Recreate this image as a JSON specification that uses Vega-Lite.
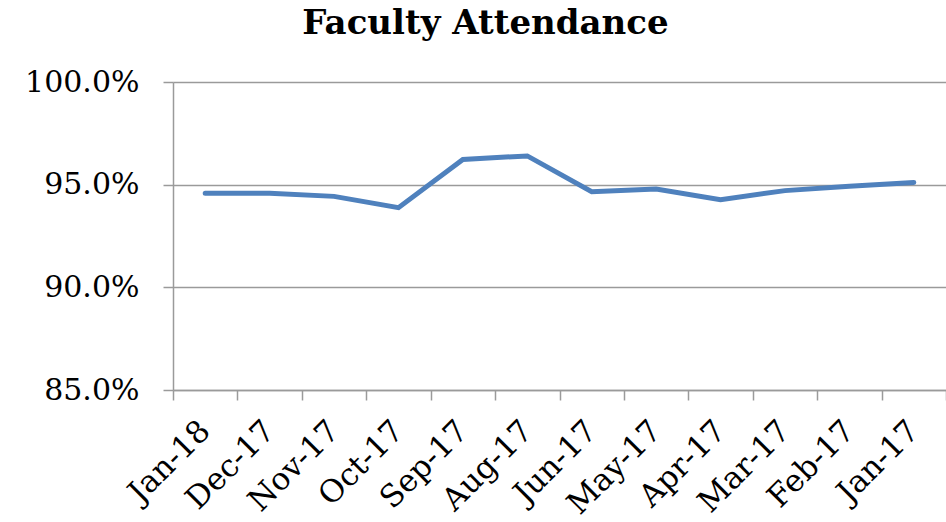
{
  "$schema": "https://vega.github.io/schema/vega-lite/v6.json",
  "autosize": {"type": "none"},
  "padding": {"left": 173, "top": 82, "right": 0, "bottom": 132},
  "width": 773,
  "height": 308,
  "background": "white",
  "title": {
    "text": "Faculty Attendance",
    "font": "DejaVu Serif",
    "fontSize": 34,
    "fontWeight": "bold",
    "color": "#000000",
    "anchor": "middle",
    "dx": -74,
    "offset": 26
  },
  "config": {
    "view": {"stroke": null},
    "axis": {
      "labelFont": "DejaVu Serif",
      "labelFontSize": 30,
      "labelColor": "#000000",
      "domainColor": "#9a9a9a",
      "tickColor": "#9a9a9a",
      "gridColor": "#9a9a9a",
      "domainWidth": 1.5,
      "tickWidth": 1.5,
      "gridWidth": 1.5,
      "tickSize": 10
    }
  },
  "data": {
    "values": [
      {"month": "Jan-18", "rate": 0.9458},
      {"month": "Dec-17", "rate": 0.9458},
      {"month": "Nov-17", "rate": 0.9443},
      {"month": "Oct-17", "rate": 0.9388},
      {"month": "Sep-17", "rate": 0.9623},
      {"month": "Aug-17", "rate": 0.9640},
      {"month": "Jun-17", "rate": 0.9466},
      {"month": "May-17", "rate": 0.9479},
      {"month": "Apr-17", "rate": 0.9427},
      {"month": "Mar-17", "rate": 0.9471},
      {"month": "Feb-17", "rate": 0.9492},
      {"month": "Jan-17", "rate": 0.9511}
    ]
  },
  "mark": {"type": "line", "color": "#4F81BD", "strokeWidth": 5, "strokeCap": "round", "strokeJoin": "miter"},
  "encoding": {
    "x": {
      "field": "month",
      "type": "nominal",
      "sort": null,
      "bandPosition": 0.5,
      "scale": {"type": "band", "paddingInner": 0, "paddingOuter": 0},
      "axis": {
        "title": null,
        "labelAngle": -45,
        "labelAlign": "right",
        "labelBaseline": "middle",
        "labelPadding": 26,
        "labelFontSize": 31,
        "tickBand": "extent",
        "grid": false
      }
    },
    "y": {
      "field": "rate",
      "type": "quantitative",
      "scale": {"domain": [0.85, 1.0], "nice": false, "zero": false},
      "axis": {
        "title": null,
        "format": ".1%",
        "values": [0.85, 0.9, 0.95, 1.0],
        "grid": true,
        "labelPadding": 24,
        "domain": true
      }
    }
  }
}
